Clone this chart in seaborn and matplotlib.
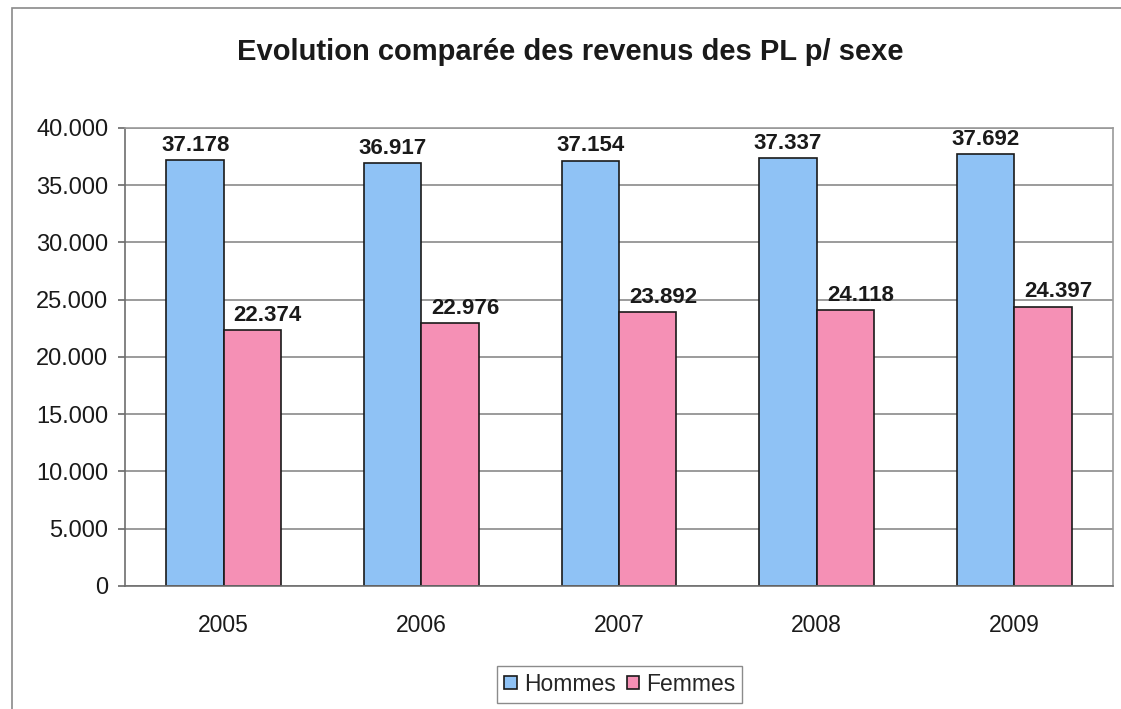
import matplotlib
matplotlib.use("Agg")
import matplotlib.pyplot as plt
from matplotlib.patches import Rectangle
from matplotlib.ticker import FuncFormatter
import seaborn as sns
import pandas as pd

years = ["2005", "2006", "2007", "2008", "2009"]
hommes = [37178, 36917, 37154, 37337, 37692]
femmes = [22374, 22976, 23892, 24118, 24397]
series_names = ["Hommes", "Femmes"]
title = "Evolution comparée des revenus des PL p/ sexe"

df = pd.DataFrame({
    "annee": years * 2,
    "revenu": hommes + femmes,
    "sexe": [series_names[0]] * len(years) + [series_names[1]] * len(years),
})

sns.set_theme(style="white")
plt.rcParams["font.family"] = ["Liberation Sans", "DejaVu Sans"]

colors = {"Hommes": "#8fc2f5", "Femmes": "#f590b5"}


def fmt(v):
    return f"{int(v):,}".replace(",", ".")


fig = plt.figure(figsize=(11.21, 7.09), dpi=100)
ax = fig.add_axes([0.1115, 0.1735, 0.8814, 0.646])

sns.barplot(data=df, x="annee", y="revenu", hue="sexe", palette=colors,
            width=0.58, edgecolor="#1a1a1a", linewidth=1.2, ax=ax,
            legend=False, saturation=1)

ax.set_ylim(0, 40000)
ax.set_yticks(range(0, 40001, 5000))
ax.yaxis.set_major_formatter(FuncFormatter(lambda v, p: fmt(v)))
ax.grid(axis="y", color="#8a8a8a", linewidth=1.2)
ax.set_axisbelow(True)
ax.set_xlabel("")
ax.set_ylabel("")
for side in ["left", "bottom"]:
    ax.spines[side].set_color("#6e6e6e")
    ax.spines[side].set_linewidth(1.2)
for side in ["top", "right"]:
    ax.spines[side].set_color("#9a9a9a")
    ax.spines[side].set_linewidth(1.2)
ax.tick_params(axis="y", labelsize=17, length=5, color="#6e6e6e", direction="out", left=True, pad=7)
ax.tick_params(axis="x", labelsize=16.5, length=0, pad=20)
for lab in ax.get_xticklabels() + ax.get_yticklabels():
    lab.set_color("#1a1a1a")

# value labels above each bar (women's labels sit slightly to the right)
for container, dx in zip(ax.containers, [0, 11]):
    for bar in container:
        h = bar.get_height()
        ax.annotate(fmt(h),
                    (bar.get_x() + bar.get_width() / 2, h),
                    xytext=(dx, 3), textcoords="offset points",
                    ha="center", va="bottom", fontsize=16,
                    fontweight="bold", color="#1a1a1a")

fig.text(0.509, 0.927, title, ha="center", va="center",
         fontsize=21, fontweight="bold", color="#1a1a1a")

handles = [Rectangle((0, 0), 1, 1, facecolor=colors[s], edgecolor="#1a1a1a", linewidth=1.2)
           for s in series_names]
leg = fig.legend(handles, series_names, loc="center", bbox_to_anchor=(0.553, 0.035),
                 ncol=2, fontsize=16.5, frameon=True, fancybox=False,
                 handlelength=0.55, handleheight=0.55, handletextpad=0.3,
                 columnspacing=0.5, borderpad=0.3)
leg.get_frame().set_edgecolor("#6e6e6e")
leg.get_frame().set_linewidth(1.0)

# chart frame
fig.patches.append(Rectangle((12 / 1121, -0.01), 1.2, 0.999, transform=fig.transFigure,
                             fill=False, edgecolor="#8a8a8a", linewidth=1.2))

fig.savefig("out.png", dpi=100)
